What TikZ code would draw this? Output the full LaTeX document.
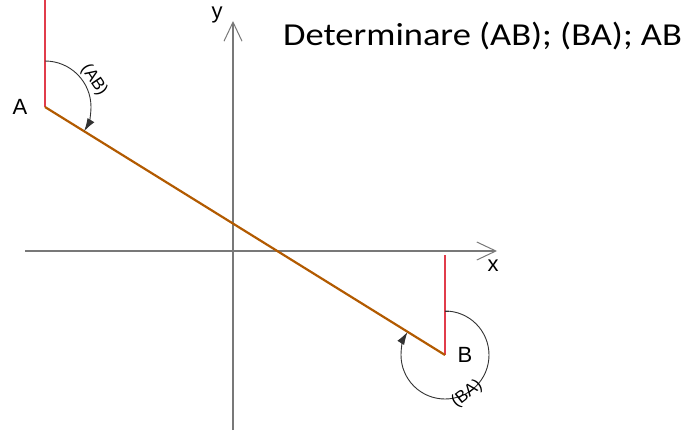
\documentclass[tikz,border=0pt]{standalone}
\usepackage{fontspec}
\setmainfont{Liberation Sans}
\newfontfamily\calib{Carlito}
\usetikzlibrary{arrows.meta}
\definecolor{brownline}{RGB}{178,90,0}
\definecolor{redline}{RGB}{225,60,75}
\definecolor{axisgray}{RGB}{120,120,120}
\definecolor{arcgray}{RGB}{50,50,50}
\tikzset{
  axisline/.style={draw=axisgray, line width=1.2pt, -{Straight Barb[length=19pt,width=18pt,line width=1pt]}},
  refline/.style={draw=redline, line width=1.2pt},
  segline/.style={draw=brownline, line width=2.2pt},
  anglearc/.style={draw=arcgray, line width=0.9pt, -{Latex[length=13pt,width=8pt]}},
  ptlabel/.style={font=\fontsize{22}{22}\selectfont, inner sep=0pt},
  axlabel/.style={font=\fontsize{22}{22}\selectfont, inner sep=0pt},
  arclabel/.style={font=\fontsize{17}{17}\selectfont, inner sep=0pt},
}
\begin{document}
% coordinates: (x, 432 - y_image)
\begin{tikzpicture}[x=1pt,y=1pt]
\useasboundingbox (0,0) rectangle (693,432);
% points
\coordinate (A) at (45,325);
\coordinate (B) at (445,77);
\coordinate (Atop) at (45,432);
\coordinate (Btop) at (445,177);
\coordinate (xs) at (25,181);
\coordinate (xe) at (497,181);
\coordinate (ys) at (233,2);
\coordinate (ye) at (233,411);
% axes
\draw[axisline] (xs) -- (xe);
\draw[axisline] (ys) -- (ye);
\node[axlabel] (xl) at (493,166) {x};
\node[axlabel] (yl) at (217,417) {y};
% reference verticals
\draw[refline] (A) -- (Atop);
\draw[refline] (B) -- (Btop);
% segment
\draw[segline] (A) -- (B);
% arc at A: clockwise from up to direction of AB
\draw[anglearc] (45,371) arc[start angle=90, end angle=-31.8, radius=46];
\node[arclabel, rotate=-56] (abl) at (94,352) {(AB)};
% arc at B: clockwise from up all round to direction of BA
\draw[arcgray, line width=0.9pt] (445,121) -- (449,121);
\draw[anglearc] (445,121) arc[start angle=90, end angle=-211.8, radius=44];
\node[arclabel, rotate=38] (bal) at (467,38) {(BA)};
% labels
\node[ptlabel] (Al) at (20,325) {A};
\node[ptlabel] (Bl) at (465,77) {B};
\node[font=\calib\fontsize{32}{32}\selectfont, anchor=west, inner sep=0pt, xscale=1.14] (title) at (283,396) {Determinare (AB); (BA); AB};
\end{tikzpicture}
\end{document}
